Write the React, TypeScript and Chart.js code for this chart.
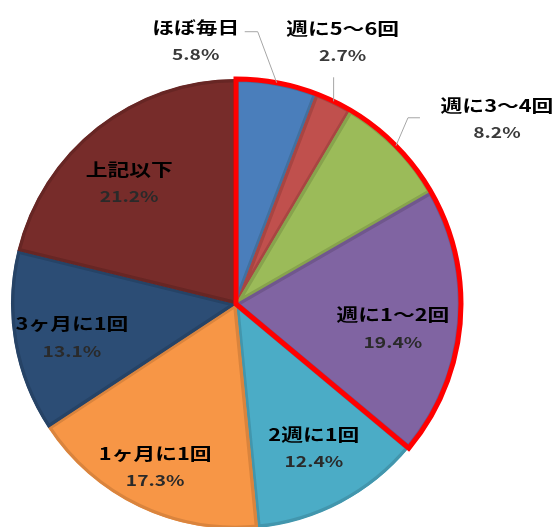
import { useEffect, useRef } from 'react';
import { Chart, registerables } from 'chart.js';

Chart.register(...registerables);

const categories = ['ほぼ毎日', '週に5～6回', '週に3～4回', '週に1～2回', '2週に1回', '1ヶ月に1回', '3ヶ月に1回', '上記以下'];
const shares = [5.8, 2.7, 8.2, 19.4, 12.4, 17.3, 13.1, 21.2];
const percentLabels = ['5.8%', '2.7%', '8.2%', '19.4%', '12.4%', '17.3%', '13.1%', '21.2%'];
const highlightedCount = 4;

const fillColors = ['#4A7EBB', '#C0504D', '#9BBB59', '#8064A2', '#4BACC6', '#F79646', '#2C4D75', '#772C2A'];
const edgeColors = ['#42709F', '#A84542', '#87A34D', '#70578D', '#4296AD', '#DA843D', '#264366', '#672624'];

const FONT = '"Noto Sans CJK JP", "Noto Sans", sans-serif';
const X_STRETCH = 1.28;
const LINE_GAP = 27;

// label layout for slices whose labels sit outside the pie: offsets relative to the arc point at mid-angle
const outsideLayout: Record<number, { line: [number, number][]; label: [number, number] }> = {
  0: { line: [[-19, -51], [-32, -51]], label: [-81, -55] },
  1: { line: [[0, -24]], label: [9, -73] },
  2: { line: [[12, -28], [24, -28]], label: [101, -40] },
};

// small nudges for labels inside the pie, relative to 0.74 r at mid-angle
const insideNudge: Record<number, [number, number]> = {
  3: [-9, 10],
  4: [0, -3],
  5: [-9, 13],
  6: [0, 5],
  7: [-4, 10],
};

function drawText(ctx: CanvasRenderingContext2D, text: string, x: number, y: number, font: string, color: string) {
  ctx.save();
  ctx.translate(x, y);
  ctx.scale(X_STRETCH, 1);
  ctx.font = font;
  ctx.fillStyle = color;
  ctx.textAlign = 'center';
  ctx.textBaseline = 'middle';
  ctx.fillText(text, 0, 0);
  ctx.restore();
}

const outlinePlugin = {
  id: 'outline',
  afterDatasetsDraw(chart: any) {
    const meta = chart.getDatasetMeta(0);
    const first = meta.data[0];
    const last = meta.data[highlightedCount - 1];
    if (!first || !last) return;
    const x = first.x, y = first.y, outerRadius = first.outerRadius;
    const start = first.startAngle;
    const end = last.endAngle;
    const ctx = chart.ctx as CanvasRenderingContext2D;
    ctx.save();
    ctx.beginPath();
    ctx.moveTo(x, y);
    ctx.lineTo(x + outerRadius * Math.cos(start), y + outerRadius * Math.sin(start));
    ctx.arc(x, y, outerRadius, start, end);
    ctx.closePath();
    ctx.strokeStyle = '#FF0000';
    ctx.lineWidth = 5;
    ctx.lineJoin = 'miter';
    ctx.stroke();
    ctx.restore();
  },
};

const labelPlugin = {
  id: 'sliceLabels',
  afterDraw(chart: any) {
    const meta = chart.getDatasetMeta(0);
    const ctx = chart.ctx as CanvasRenderingContext2D;
    meta.data.forEach((arc: any, i: number) => {
      const x = arc.x, y = arc.y, r = arc.outerRadius;
      const mid = (arc.startAngle + arc.endAngle) / 2;
      const nameFont = `bold 17px ${FONT}`;
      const pctFont = `bold 15px ${FONT}`;
      const layout = outsideLayout[i];
      if (layout) {
        const ax = x + r * Math.cos(mid);
        const ay = y + r * Math.sin(mid);
        ctx.save();
        ctx.strokeStyle = '#A6A6A6';
        ctx.lineWidth = 1;
        ctx.beginPath();
        ctx.moveTo(ax, ay);
        layout.line.forEach(([dx, dy]) => ctx.lineTo(ax + dx, ay + dy));
        ctx.stroke();
        ctx.restore();
        const lx = ax + layout.label[0];
        const ly = ay + layout.label[1];
        drawText(ctx, categories[i], lx, ly, nameFont, '#000000');
        drawText(ctx, percentLabels[i], lx, ly + LINE_GAP, pctFont, '#3A3A3A');
      } else {
        const lr = r * 0.74;
        const nudge = insideNudge[i] || [0, 0];
        const cx = x + lr * Math.cos(mid) + nudge[0];
        const cy = y + lr * Math.sin(mid) + nudge[1];
        drawText(ctx, categories[i], cx, cy - LINE_GAP / 2, nameFont, '#000000');
        drawText(ctx, percentLabels[i], cx, cy + LINE_GAP / 2, pctFont, '#2A2A2A');
      }
    });
  },
};

export default function App() {
  const ref = useRef<HTMLCanvasElement>(null);
  useEffect(() => {
    if (!ref.current) return;
    const chart = new Chart(ref.current, {
      type: 'pie',
      data: {
        labels: categories,
        datasets: [
          {
            data: shares,
            backgroundColor: fillColors,
            borderColor: edgeColors,
            borderWidth: 3,
            borderAlign: 'inner',
            hoverBorderWidth: 0,
          } as any,
        ],
      },
      options: {
        responsive: true,
        maintainAspectRatio: false,
        animation: false,
        events: [],
        layout: { padding: { left: 11, right: 92, top: 79, bottom: 11 } },
        plugins: { legend: { display: false }, tooltip: { enabled: false } },
      },
      plugins: [outlinePlugin, labelPlugin],
    });
    return () => chart.destroy();
  }, []);
  return (
    <div style={{ position: 'fixed', left: 0, top: 0, width: 553, height: 540, background: '#FFFFFF' }}>
      <canvas ref={ref} />
    </div>
  );
}
